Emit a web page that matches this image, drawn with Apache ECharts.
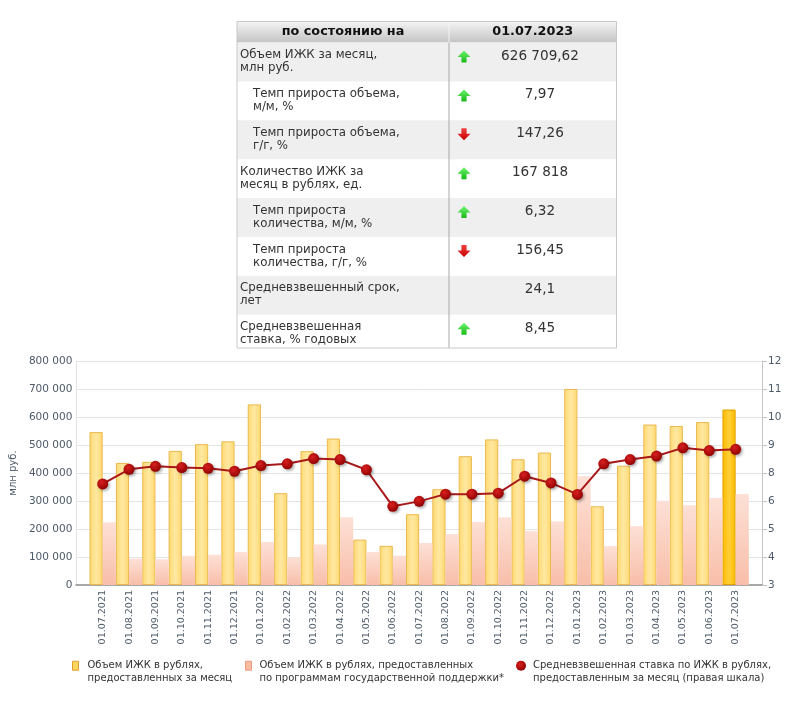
<!DOCTYPE html>
<html><head><meta charset="utf-8">
<script src="https://cdn.jsdelivr.net/npm/echarts@6/dist/echarts.min.js"></script>
<style>html,body{margin:0;padding:0;background:#fff}#c{width:800px;height:709px}</style>
</head><body><div id="c"></div>
<script>
// ---------- data ----------
const categories = ['01.07.2021','01.08.2021','01.09.2021','01.10.2021','01.11.2021','01.12.2021',
  '01.01.2022','01.02.2022','01.03.2022','01.04.2022','01.05.2022','01.06.2022','01.07.2022',
  '01.08.2022','01.09.2022','01.10.2022','01.11.2022','01.12.2022','01.01.2023','01.02.2023',
  '01.03.2023','01.04.2023','01.05.2023','01.06.2023','01.07.2023'];
const volumeTotal = [546000,436000,440000,479000,503000,513000,645000,328000,478000,523000,162000,140000,
  253000,342000,460000,520000,449000,473000,700000,281000,426000,573000,568000,582000,626710];
const volumeState = [224000,94000,92000,104000,108000,118000,154000,99000,145000,242000,118000,105000,
  150000,182000,225000,242000,193000,227000,388000,139000,210000,301000,285000,311000,325000];
const rate = [7.06,7.65,7.77,7.72,7.69,7.57,7.80,7.87,8.08,8.04,7.63,6.16,6.36,6.65,6.65,6.69,
  7.37,7.10,6.64,7.87,8.04,8.18,8.51,8.40,8.45];
const rightTickLabels = ['3','4','5','6','8','9','10','11','12'];
const seriesNames = ['Объем ИЖК в рублях, предоставленных за месяц',
  'Объем ИЖК в рублях, предоставленных по программам государственной поддержки*',
  'Средневзвешенная ставка по ИЖК в рублях, предоставленным за месяц (правая шкала)'];
const legendLabels = ['Объем ИЖК в рублях,\nпредоставленных за месяц',
  'Объем ИЖК в рублях, предоставленных\nпо программам государственной поддержки*',
  'Средневзвешенная ставка по ИЖК в рублях,\nпредоставленным за месяц (правая шкала)'];
const tableHeader = ['по состоянию на', '01.07.2023'];
const tableLabels = ['Объем ИЖК за месяц,\nмлн руб.','Темп прироста объема,\nм/м, %','Темп прироста объема,\nг/г, %',
  'Количество ИЖК за\nмесяц в рублях, ед.','Темп прироста\nколичества, м/м, %','Темп прироста\nколичества, г/г, %',
  'Средневзвешенный срок,\nлет','Средневзвешенная\nставка, % годовых'];
const tableIndent = [false,true,true,false,true,true,false,false];
const tableValues = ['626 709,62','7,97','147,26','167 818','6,32','156,45','24,1','8,45'];
const tableTrends = ['up','up','down','up','up','down','','up'];

// ---------- build ----------
const FONT = 'DejaVu Sans';
const axisCats = [''].concat(categories, ['']);
const pad = arr => [null].concat(arr, [null]);
const fmtThousands = v => String(v).replace(/\B(?=(\d{3})+(?!\d))/g, ' ');

const yellowGrad = new echarts.graphic.LinearGradient(0,0,1,0,[
  {offset:0,color:'#FFD970'},{offset:0.5,color:'#FFE8A2'},{offset:1,color:'#FFD970'}]);
const goldGrad = new echarts.graphic.LinearGradient(0,0,1,0,[
  {offset:0,color:'#FFBC00'},{offset:0.5,color:'#FFCE38'},{offset:1,color:'#FFBC00'}]);
const pinkGrad = new echarts.graphic.LinearGradient(0,0,0,1,[
  {offset:0,color:'#FDE0D6'},{offset:1,color:'#F8BEA9'}]);
const dotGrad = new echarts.graphic.RadialGradient(0.4,0.35,0.7,[
  {offset:0,color:'#D82020'},{offset:1,color:'#8E0000'}]);

const totalData = pad(volumeTotal.map((v,i) => i === volumeTotal.length-1
  ? {value:v, itemStyle:{color:goldGrad, borderColor:'#E0A000'}} : v));

// table graphics
const g = [];
const TL = 237, TR = 616.5, TC = 449, TT = 21.5, HB = 42.5, TB = 348, RH = 38.9;
g.push({type:'rect', shape:{x:TL,y:TT,width:TR-TL,height:HB-TT},
  style:{fill:new echarts.graphic.LinearGradient(0,0,0,1,[{offset:0,color:'#F4F4F4'},{offset:1,color:'#C4C4C4'}])}});
g.push({type:'line', shape:{x1:TC,y1:TT,x2:TC,y2:HB}, style:{stroke:'#F4F4F4',lineWidth:1}});
g.push({type:'text', x:(TL+TC)/2, y:(TT+HB)/2, style:{text:tableHeader[0], font:'bold 12.8px '+FONT, fill:'#111', align:'center', verticalAlign:'middle'}});
g.push({type:'text', x:(TC+TR)/2, y:(TT+HB)/2, style:{text:tableHeader[1], font:'bold 12.8px '+FONT, fill:'#111', align:'center', verticalAlign:'middle'}});
tableLabels.forEach((lab,i) => {
  const top = HB + i*RH;
  const bot = i === tableLabels.length-1 ? TB : top + RH;
  if (i % 2 === 0) g.push({type:'rect', shape:{x:TL,y:top,width:TR-TL,height:bot-top}, style:{fill:'#EFEFEF'}});
  g.push({type:'text', x: TL + (tableIndent[i] ? 16 : 3), y: top + 6,
    style:{text:lab, font:'11.8px '+FONT, fill:'#333', lineHeight:13, verticalAlign:'top'}});
  g.push({type:'text', x: 540, y: top + 13.5,
    style:{text:tableValues[i], font:'13.6px '+FONT, fill:'#333', align:'center', verticalAlign:'middle'}});
  if (tableTrends[i]) {
    const up = tableTrends[i] === 'up';
    const s = up ? 1 : -1;
    const pts = [[0,-6],[6.5,0.5],[2.6,0.5],[2.6,6],[-2.6,6],[-2.6,0.5],[-6.5,0.5]].map(p => [p[0], p[1]*s]);
    g.push({type:'polygon', x:464, y: top + 14, shape:{points:pts},
      style:{fill: up ? new echarts.graphic.LinearGradient(0,0,0,1,[{offset:0,color:'#6CF56C'},{offset:1,color:'#18B818'}])
                      : new echarts.graphic.LinearGradient(0,0,0,1,[{offset:0,color:'#F04040'},{offset:1,color:'#C80000'}])}});
  }
});
g.push({type:'line', shape:{x1:TC,y1:HB,x2:TC,y2:TB}, style:{stroke:'#A8A8A8',lineWidth:1}});
g.push({type:'rect', shape:{x:TL,y:TT,width:TR-TL,height:TB-TT}, style:{fill:null, stroke:'#C8C8C8', lineWidth:1}});

const legendIconStyles = [
  {color:'#FFD65E', borderColor:'#E0A030', borderWidth:1},
  {color:'#F8BBA2', borderColor:'#E89A7C', borderWidth:1},
  {color:dotGrad}
];
const legendBase = (i, left, icon, w, h, padL) => ({
  left: left, top: 647, padding: 0,
  data: [{name: seriesNames[i], itemStyle: legendIconStyles[i]}],
  icon: icon, itemWidth: w, itemHeight: h,
  selectedMode: false, formatter: name => '\n' + legendLabels[seriesNames.indexOf(name)],
  textStyle: {fontFamily: FONT, fontSize: 10, lineHeight: 12.5, color: '#333', padding: [0,0,0,padL]}
});

const chart = echarts.init(document.getElementById('c'), null, {renderer:'canvas'});
chart.setOption({
  animation: false,
  backgroundColor: '#fff',
  grid: {left: 70, top: 361, width: 692, height: 224, containLabel: false},
  legend: [
    legendBase(0, 72, 'rect', 6, 9, 4),
    legendBase(1, 245, 'rect', 6, 9, 3),
    legendBase(2, 516, 'circle', 10, 10, 2)
  ],
  xAxis: {
    type: 'category', data: axisCats, boundaryGap: false,
    axisLine: {lineStyle: {color: '#A8A8A8', width: 2}},
    axisTick: {show: false},
    axisLabel: {rotate: 90, interval: 0, fontSize: 9.5, fontFamily: FONT, color: '#4D5A69', margin: 5},
    splitLine: {show: false}
  },
  yAxis: [
    {type: 'value', min: 0, max: 800000, interval: 100000, position: 'left',
     name: 'млн руб.', nameLocation: 'middle', nameGap: 56, nameRotate: 90,
     nameTextStyle: {fontFamily: FONT, fontSize: 10, color: '#4D5A69'},
     axisLine: {show: true, lineStyle: {color: '#E2E2E2'}},
     axisTick: {show: false},
     axisLabel: {formatter: v => fmtThousands(v), fontFamily: FONT, fontSize: 10.5, color: '#4D5A69', margin: 4},
     splitLine: {lineStyle: {color: '#E4E4E4'}}},
    {type: 'value', min: 3, max: 12, position: 'right', alignTicks: true,
     axisLine: {show: true, lineStyle: {color: '#C4C4C4'}},
     axisTick: {show: true, length: 5, lineStyle: {color: '#C4C4C4'}},
     axisLabel: {formatter: (v, i) => rightTickLabels[i] !== undefined ? rightTickLabels[i] : String(Math.round(v)),
       fontFamily: FONT, fontSize: 10.5, color: '#4D5A69', margin: 6},
     splitLine: {show: false}}
  ],
  series: [
    {name: seriesNames[0], type: 'bar', yAxisIndex: 0, data: totalData, barGap: '0%', barCategoryGap: '0%',
     itemStyle: {color: yellowGrad, borderColor: '#EBB84E', borderWidth: 1}},
    {name: seriesNames[1], type: 'bar', yAxisIndex: 0, data: pad(volumeState), barGap: '0%', barCategoryGap: '0%',
     itemStyle: {color: pinkGrad}},
    {name: seriesNames[2], type: 'line', yAxisIndex: 1, data: pad(rate), symbol: 'circle', symbolSize: 11,
     z: 5, lineStyle: {color: '#A81818', width: 2},
     itemStyle: {color: dotGrad, shadowColor: 'rgba(0,0,0,0.35)', shadowBlur: 3, shadowOffsetX: 1.5, shadowOffsetY: 1.5}}
  ],
  graphic: g
});
</script></body></html>
